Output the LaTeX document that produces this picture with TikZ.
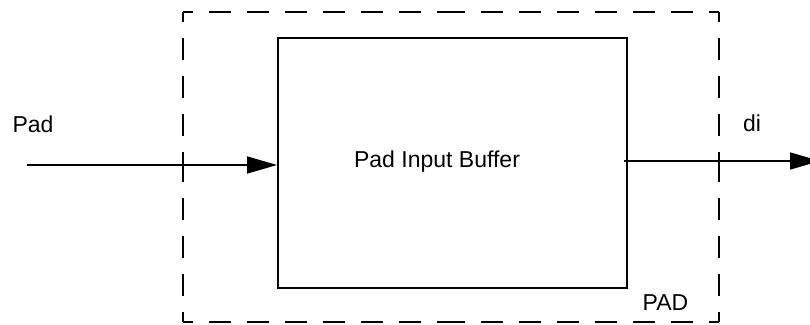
\documentclass[tikz,border=0pt]{standalone}
\usepackage{fontspec}
\setmainfont{Liberation Sans}
\usetikzlibrary{arrows.meta}
\tikzset{
  lbl/.style={font=\fontsize{23}{27}\selectfont, inner sep=0pt, anchor=base},
  blk/.style={draw, line width=2pt, minimum width=349pt, minimum height=250pt, inner sep=0pt},
  sig/.style={line width=1.6pt, -{Triangle[length=30pt, width=17pt]}},
  dsh/.style={line width=2pt, dash pattern=on 22pt off 16pt, dash phase=12pt}
}
\begin{document}
\begin{tikzpicture}[x=1pt,y=-1pt]
\useasboundingbox (0,0) rectangle (810,324);
\clip (0,0) rectangle (810,324);
% dashed PAD boundary
\coordinate (tl) at (183,12);
\coordinate (tr) at (719,12);
\coordinate (br) at (719,322);
\coordinate (bl) at (183,322);
\coordinate (tm) at (451,12);
\coordinate (bm) at (451,322);
\coordinate (lm) at (183,167);
\coordinate (rm) at (719,167);
\draw[dsh] (tl) -- (tm);
\draw[dsh] (tr) -- (tm);
\draw[dsh] (bl) -- (bm);
\draw[dsh] (br) -- (bm);
\draw[dsh] (tl) -- (lm);
\draw[dsh] (bl) -- (lm);
\draw[dsh] (tr) -- (rm);
\draw[dsh] (br) -- (rm);
% buffer block
\node[blk] (buf) at (452.5,163) {};
\node[lbl] (buftxt) at (437,167) {Pad Input Buffer};
% signals
\coordinate (inS) at (27,165);
\draw[sig] (inS) -- (inS -| buf.west);
\coordinate (outS) at (624,161);
\coordinate (outE) at (820,161);
\draw[sig] (outS) -- (outE);
% labels
\node[lbl] (padlbl) at (33,132) {Pad};
\node[lbl] (dilbl) at (752,131) {di};
\node[lbl] (padblk) at (665.5,310) {PAD};
\end{tikzpicture}
\end{document}
